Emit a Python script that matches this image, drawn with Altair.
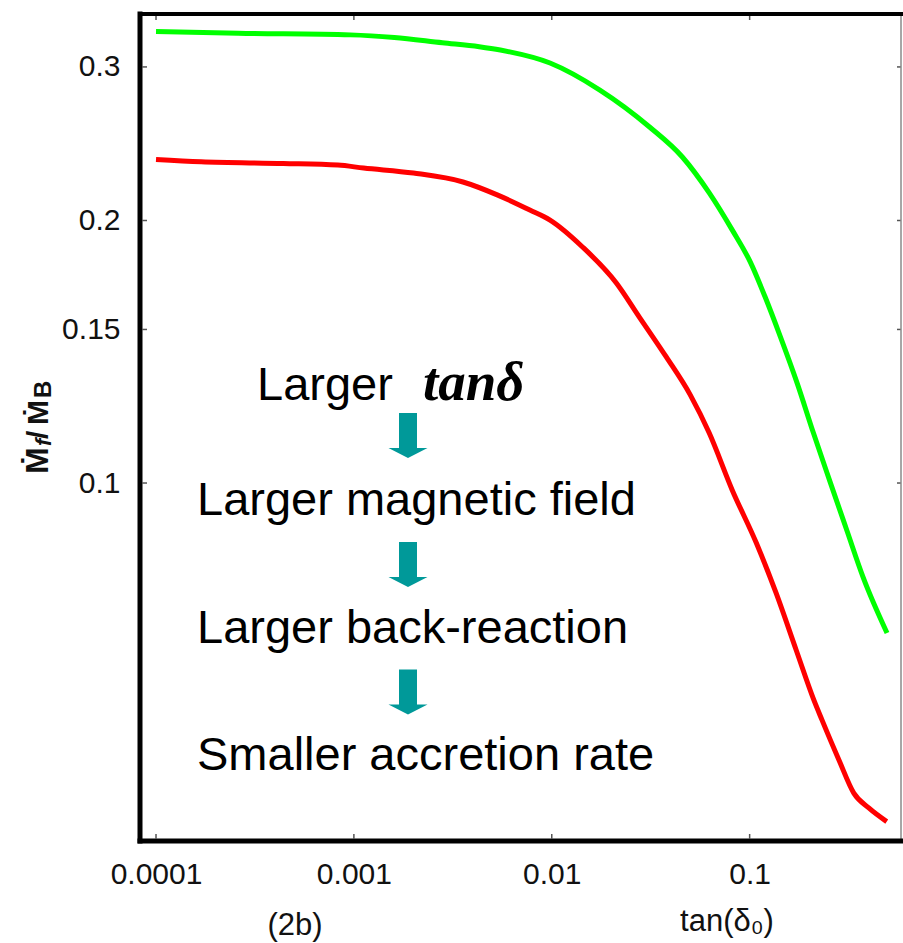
import altair as alt
import pandas as pd

# ---- data ----
green_x = [1e-4, 2.6e-4, 9.6e-4, 1.6e-3, 2.8e-3, 4.3e-3, 5.5e-3, 9.8e-3, 0.0175, 0.0312,
           0.0457, 0.0625, 0.0816, 0.1007, 0.1198, 0.1426, 0.1738, 0.2093, 0.2550, 0.3107,
           0.3743, 0.4947]
green_y = [0.3294, 0.3279, 0.3265, 0.3243, 0.3198, 0.3165, 0.3137, 0.3031, 0.2822, 0.2560,
           0.2365, 0.2151, 0.1951, 0.1793, 0.1634, 0.1474, 0.1302, 0.1144, 0.1003, 0.0881,
           0.0780, 0.0673]
red_x = [1e-4, 1.69e-4, 4.4e-4, 8.3e-4, 1.12e-3, 2.0e-3, 3.56e-3, 5.3e-3, 7.75e-3, 9.8e-3,
         0.0143, 0.0212, 0.0277, 0.0379, 0.0501, 0.0625, 0.0816, 0.108, 0.136, 0.172,
         0.211, 0.232, 0.283, 0.336, 0.400, 0.493]
red_y = [0.2350, 0.2335, 0.2325, 0.2315, 0.2297, 0.2267, 0.2214, 0.2140, 0.2056, 0.2002,
         0.1865, 0.1696, 0.1550, 0.1395, 0.1262, 0.1141, 0.0982, 0.0854, 0.0748, 0.0643,
         0.0564, 0.0535, 0.0481, 0.0441, 0.0424, 0.0409]
x_ticks = [0.0001, 0.001, 0.01, 0.1]
y_ticks = [0.1, 0.15, 0.2, 0.3]
x_title_left = "(2b)"
x_title_right = "tan(δ₀)"
note_lines = ["Larger", "tanδ", "Larger magnetic field", "Larger back-reaction", "Smaller accretion rate"]

# ---- layout ----
PL, PT = 140, 14
W, H = 761, 827
XDOM = [8.3e-5, 0.582]
YDOM = [0.03886, 0.345]
SANS = "Liberation Sans, Arial, sans-serif"

df = pd.concat([
    pd.DataFrame({"x": green_x, "y": green_y, "series": "green"}),
    pd.DataFrame({"x": red_x, "y": red_y, "series": "red"}),
])

xscale = alt.Scale(type="log", domain=XDOM, nice=False)
yscale = alt.Scale(type="log", domain=YDOM, nice=False)
xaxis = alt.Axis(values=x_ticks, format="~g", title=None, domain=False, ticks=False, grid=False,
                 labelFont=SANS, labelFontSize=30, labelColor="#111", labelPadding=18,
                 labelFlush=False)
yaxis = alt.Axis(values=y_ticks, format="~g", title=None, domain=False, ticks=False, grid=False,
                 labelFont=SANS, labelFontSize=30, labelColor="#111", labelPadding=20)
X = alt.X("x:Q", scale=xscale, axis=xaxis)
Y = alt.Y("y:Q", scale=yscale, axis=yaxis)

lines = alt.Chart(df).mark_line(strokeWidth=5, interpolate="monotone", clip=True).encode(
    x=X, y=Y,
    color=alt.Color("series:N", scale=alt.Scale(domain=["green", "red"], range=["#00ff00", "#ff0000"]),
                    legend=None),
)

xt = pd.DataFrame({"x": x_ticks})
yt = pd.DataFrame({"y": y_ticks})
tick_style = dict(color="#555", strokeWidth=1.5)
bottom_ticks = alt.Chart(xt).mark_rule(**tick_style).encode(x=X, y=alt.value(H - 2.5), y2=alt.value(H - 7))
top_ticks = alt.Chart(xt).mark_rule(**tick_style).encode(x=X, y=alt.value(2), y2=alt.value(6))
left_ticks = alt.Chart(yt).mark_rule(**tick_style).encode(y=Y, x=alt.value(2.5), x2=alt.value(7))
right_ticks = alt.Chart(yt).mark_rule(**tick_style).encode(y=Y, x=alt.value(W), x2=alt.value(W - 4))

one = pd.DataFrame({"k": [0]})
def rule(x, x2, y, y2, color, width):
    return alt.Chart(one).mark_rule(color=color, strokeWidth=width, strokeCap="square").encode(
        x=alt.value(x), x2=alt.value(x2), y=alt.value(y), y2=alt.value(y2))

frame = [
    rule(W, W, 0, H, "#8a8a8a", 1.5),
    rule(0, W, 0, 0, "black", 4),
    rule(0, 0, 0, H, "black", 5),
    rule(0, W, H, H, "black", 5),
]

def text(t, x, y, font=SANS, size=47, weight="normal", style="normal",
         align="left", baseline="alphabetic", angle=0, color="black"):
    return alt.Chart(one).mark_text(font=font, fontSize=size, fontWeight=weight, fontStyle=style,
                                    align=align, baseline=baseline, angle=angle, color=color).encode(
        x=alt.value(x - PL), y=alt.value(y - PT), text=alt.value(t))

notes = [
    text(note_lines[0], 257, 400),
    text(note_lines[1], 423, 400, font="Liberation Serif", size=55, weight="bold", style="italic"),
    text(note_lines[2], 197, 515),
    text(note_lines[3], 197, 643),
    text(note_lines[4], 197, 770),
]

arrow_path = "M-0.4,-1 L0.4,-1 L0.4,0.556 L0.867,0.556 L0,1 L-0.867,0.556 L-0.4,0.556 Z"
arrows = [
    alt.Chart(one).mark_point(shape=arrow_path, filled=True, color="#009999", opacity=1,
                              size=2025, strokeWidth=0).encode(x=alt.value(408 - PL), y=alt.value(cy - PT))
    for cy in [435.5, 564.5, 692]
]

xtitles = [
    text(x_title_left, 295, 926, size=31, align="center", baseline="middle", color="#111"),
    text(x_title_right, 727, 922, size=31, align="center", baseline="middle", color="#111"),
]

ytitle = [
    text("Ṁ", 48, 474, size=32, weight="bold", angle=270, color="#111"),
    text("f", 51, 446, size=22, weight="bold", style="italic", angle=270, color="#111"),
    text("/", 48, 439, size=30, weight="bold", angle=270, color="#111"),
    text("Ṁ", 48, 425, size=30, weight="bold", angle=270, color="#111"),
    text("B", 51, 398, size=24, weight="bold", angle=270, color="#111"),
]

chart = alt.layer(
    lines, bottom_ticks, top_ticks, left_ticks, right_ticks, *frame, *notes, *arrows, *xtitles, *ytitle
).properties(
    width=W, height=H,
    autosize=alt.AutoSizeParams(type="none"),
    padding={"left": PL, "top": PT, "right": 903 - PL - W, "bottom": 943 - PT - H},
    background="white",
).configure_view(stroke=None)

chart.save("out.html", embed_options={"renderer": "svg", "actions": False})
